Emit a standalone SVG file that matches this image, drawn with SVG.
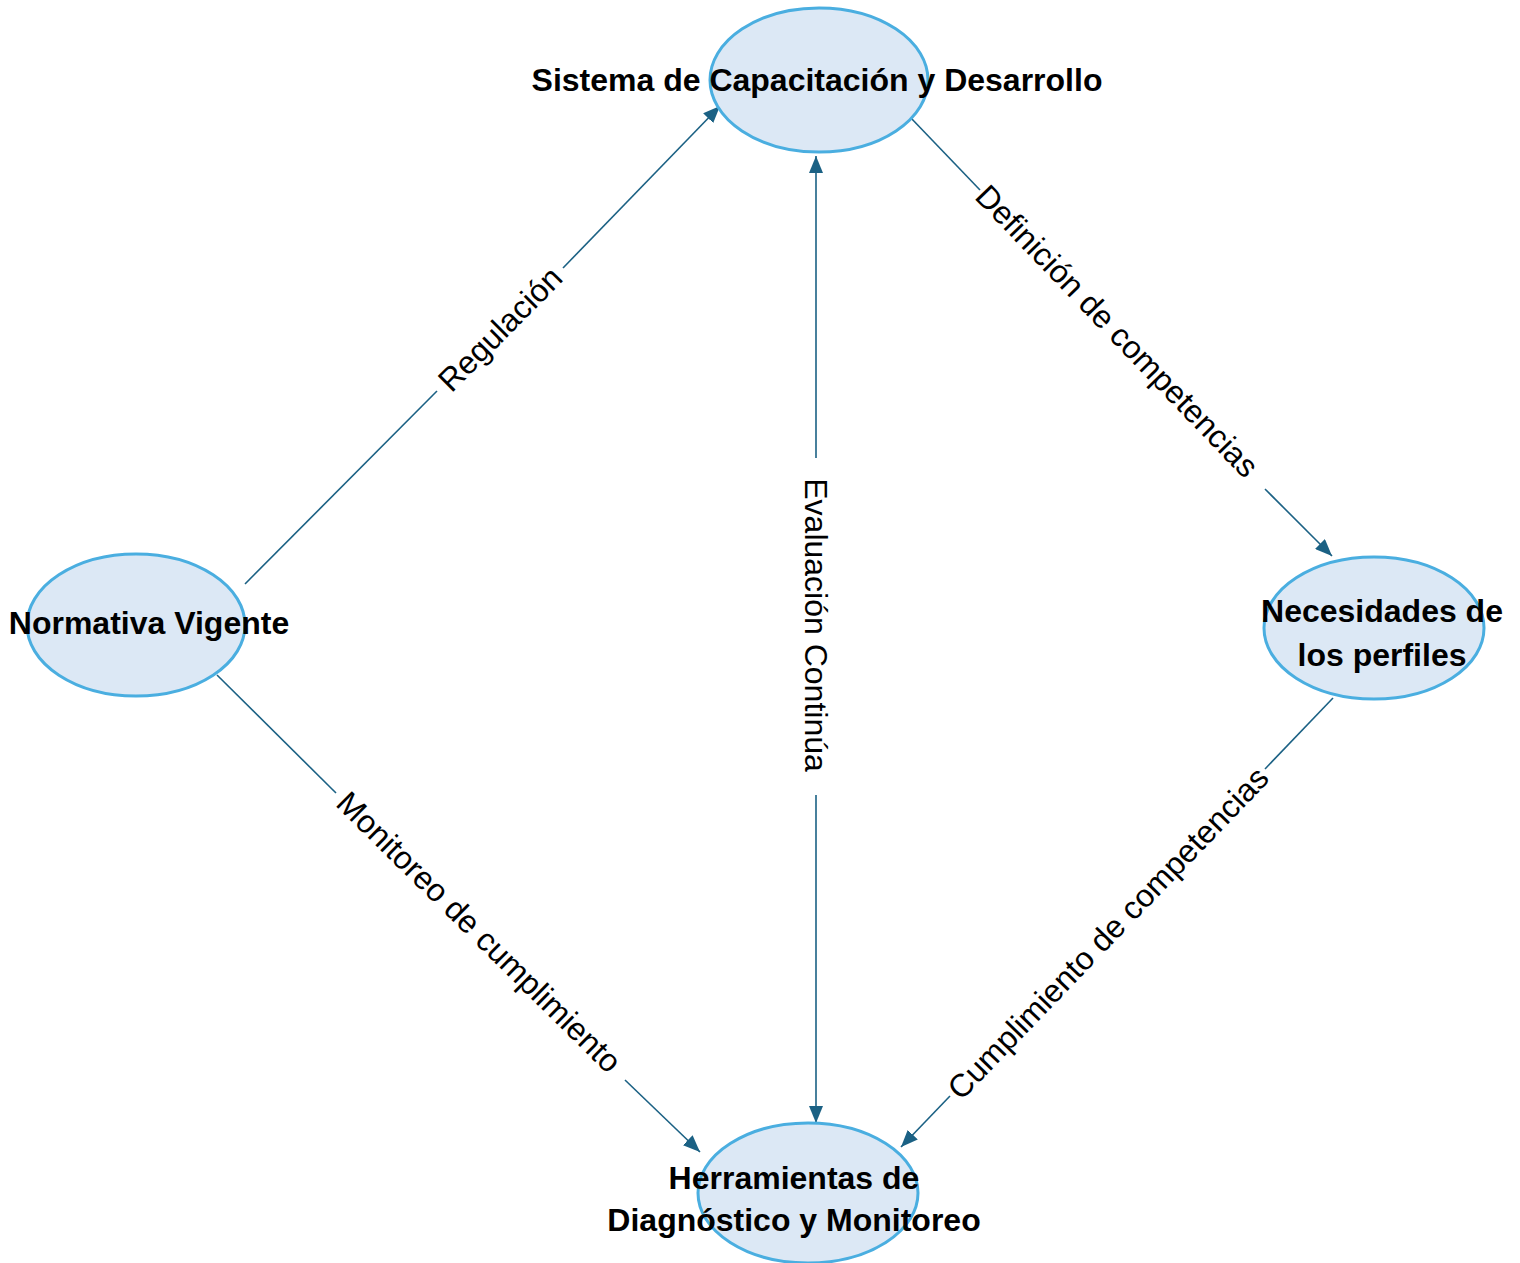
<svg xmlns="http://www.w3.org/2000/svg" width="1520" height="1263" viewBox="0 0 1520 1263">
<style>
.node{fill:#dce8f5;stroke:#4aaee0;stroke-width:3}
.nt{font-family:"Liberation Sans",Arial,sans-serif;font-weight:bold;font-size:32px;fill:#000;text-anchor:middle}
.edge{stroke:#1b6184;stroke-width:1.6;fill:none}
.lbl{font-family:"Liberation Sans",Arial,sans-serif;font-size:32px;fill:#000;text-anchor:middle}
</style>
<defs>
<marker id="arrow" markerUnits="userSpaceOnUse" markerWidth="18" markerHeight="14" refX="17" refY="7" orient="auto">
<path d="M0,0 L17,7 L0,14 z" fill="#1b6184"/>
</marker>
</defs>
<rect width="1520" height="1263" fill="#fff"/>
<g id="connectors">
<g id="e-regulacion">
<line class="edge" x1="245" y1="584" x2="437" y2="391"/>
<line class="edge" x1="563" y1="268" x2="720" y2="106" marker-end="url(#arrow)"/>
<text class="lbl" transform="translate(500,329) rotate(-45.2)" y="11">Regulación</text>
</g>
<g id="e-definicion">
<line class="edge" x1="910" y1="117" x2="980" y2="190"/>
<line class="edge" x1="1265" y1="489" x2="1332" y2="556" marker-end="url(#arrow)"/>
<text class="lbl" transform="translate(1117,331) rotate(46.1)" y="11">Definición de competencias</text>
</g>
<g id="e-evaluacion">
<line class="edge" x1="816" y1="458" x2="816" y2="156" marker-end="url(#arrow)"/>
<line class="edge" x1="816" y1="795" x2="816" y2="1123" marker-end="url(#arrow)"/>
<text class="lbl" transform="translate(816,625) rotate(90)" y="11">Evaluación Continúa</text>
</g>
<g id="e-monitoreo">
<line class="edge" x1="217" y1="675" x2="336" y2="793"/>
<line class="edge" x1="625" y1="1080" x2="700" y2="1152" marker-end="url(#arrow)"/>
<text class="lbl" transform="translate(479,932) rotate(44.6)" y="11">Monitoreo de cumplimiento</text>
</g>
<g id="e-cumplimiento">
<line class="edge" x1="1333" y1="698" x2="1265" y2="769"/>
<line class="edge" x1="950" y1="1096" x2="901" y2="1147" marker-end="url(#arrow)"/>
<text class="lbl" transform="translate(1108,933) rotate(-46.1)" y="11">Cumplimiento de competencias</text>
</g>
</g>
<g id="n-sistema">
<ellipse class="node" cx="819" cy="80" rx="109" ry="72"/>
<text class="nt" x="817" y="91">Sistema de Capacitación y Desarrollo</text>
</g>
<g id="n-normativa">
<ellipse class="node" cx="136" cy="625" rx="109" ry="71"/>
<text class="nt" x="149" y="634">Normativa Vigente</text>
</g>
<g id="n-necesidades">
<ellipse class="node" cx="1374" cy="628" rx="110" ry="71"/>
<text class="nt" x="1382" y="622">Necesidades de</text>
<text class="nt" x="1382" y="666">los perfiles</text>
</g>
<g id="n-herramientas">
<ellipse class="node" cx="808" cy="1193" rx="110" ry="70"/>
<text class="nt" x="794" y="1189">Herramientas de</text>
<text class="nt" x="794" y="1231">Diagnóstico y Monitoreo</text>
</g>
</svg>
